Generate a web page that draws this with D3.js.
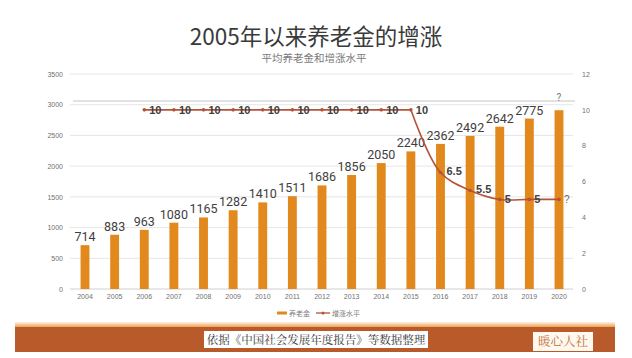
<!DOCTYPE html>
<html><head><meta charset="utf-8">
<script src="https://cdn.jsdelivr.net/npm/d3@7"></script>
<style>body{margin:0;background:#fff}svg{display:block}</style>
</head><body>
<svg id="c" width="632" height="358"></svg>
<script>
const years = ["2004","2005","2006","2007","2008","2009","2010","2011","2012","2013","2014","2015","2016","2017","2018","2019","2020"];
const pension = [714,883,963,1080,1165,1282,1410,1511,1686,1856,2050,2240,2362,2492,2642,2775,2910];
const pensionLabels = ["714","883","963","1080","1165","1282","1410","1511","1686","1856","2050","2240","2362","2492","2642","2775","?"];
const growthYears = ["2006","2007","2008","2009","2010","2011","2012","2013","2014","2015","2016","2017","2018","2019","2020"];
const growth = [10,10,10,10,10,10,10,10,10,10,6.5,5.5,5,5,5];
const growthLabels = ["10","10","10","10","10","10","10","10","10","10","6.5","5.5","5","5","?"];
const leftTicks = [0,500,1000,1500,2000,2500,3000,3500];
const rightTicks = [0,2,4,6,8,10,12];
const title = "2005年以来养老金的增涨";
const subtitle = "平均养老金和增涨水平";
const legendNames = ["养老金","增涨水平"];
const footerText = "依据《中国社会发展年度报告》等数据整理";
const badgeText = "暖心人社";

const svg = d3.select("#c");
const barColor = "#E2891E", lineColor = "#B4533A";
const cjk = "'Noto Sans CJK SC', sans-serif";

const x = d3.scaleBand().domain(years).range([70.2, 573.8]).paddingInner(0.7).paddingOuter(0.35);
const yL = d3.scaleLinear().domain([0,3500]).range([289,74]);
const yR = d3.scaleLinear().domain([0,12]).range([289,74]);
const cx = d => x(d) + x.bandwidth()/2;

// title
svg.append("text").attr("x",316).attr("y",45).attr("text-anchor","middle")
  .attr("font-family",cjk).attr("font-size",22.5).attr("font-weight",400).attr("fill","#3a3a3a").text(title);
svg.append("text").attr("x",314).attr("y",62).attr("text-anchor","middle")
  .attr("font-family",cjk).attr("font-size",10.5).attr("fill","#7a7a7a").text(subtitle);

// gridlines
svg.append("g").selectAll("line").data(leftTicks).join("line")
  .attr("x1",70).attr("x2",573).attr("y1",d=>yL(d)).attr("y2",d=>yL(d))
  .attr("stroke",d=>d===0?"#d0d0d0":"#e6e6e6").attr("stroke-width",1);
svg.append("line").attr("x1",73).attr("x2",575).attr("y1",101).attr("y2",101).attr("stroke","#c4c4c4").attr("stroke-width",1);

// axes labels
const axisFont = "'Liberation Sans', sans-serif";
const gl = svg.append("g").attr("transform","translate(63,0)")
  .call(d3.axisLeft(yL).tickValues(leftTicks).tickFormat(d3.format("d")).tickSize(0).tickPadding(0));
gl.select(".domain").remove();
gl.selectAll("text").attr("font-family",axisFont).attr("font-size",7).attr("fill","#707070");
const gr = svg.append("g").attr("transform","translate(582,0)")
  .call(d3.axisRight(yR).tickValues(rightTicks).tickFormat(d3.format("d")).tickSize(0).tickPadding(0));
gr.select(".domain").remove();
gr.selectAll("text").attr("font-family",axisFont).attr("font-size",7).attr("fill","#707070");
const gx = svg.append("g").attr("transform","translate(0,294)")
  .call(d3.axisBottom(x).tickSize(0).tickPadding(0));
gx.select(".domain").remove();
gx.selectAll("text").attr("font-family",axisFont).attr("font-size",7).attr("fill","#707070");

// bars
svg.append("g").selectAll("rect").data(years).join("rect")
  .attr("x",d=>x(d)).attr("width",x.bandwidth())
  .attr("y",(d,i)=>yL(pension[i])).attr("height",(d,i)=>yL(0)-yL(pension[i]))
  .attr("fill",barColor);
svg.append("g").selectAll("text").data(years).join("text")
  .attr("x",d=>cx(d)).attr("y",(d,i)=>yL(pension[i])-(i===16?9:4))
  .attr("text-anchor","middle").attr("font-family","Roboto, sans-serif")
  .attr("font-size",(d,i)=>i===16?10:12.5).attr("fill",(d,i)=>i===16?"#777":"#404040")
  .text((d,i)=>pensionLabels[i]);

// line: straight while flat, smoothed after the drop begins
const pts = growthYears.map((d,i)=>[cx(d), yR(growth[i])]);
const flatEnd = growthYears.indexOf("2015");
svg.append("path").attr("d", d3.line()(pts.slice(0, flatEnd+1)))
  .attr("fill","none").attr("stroke",lineColor).attr("stroke-width",1.6);
svg.append("path").attr("d", d3.line().curve(d3.curveCatmullRom.alpha(0.5))(pts.slice(flatEnd)))
  .attr("fill","none").attr("stroke",lineColor).attr("stroke-width",1.6);
svg.append("g").selectAll("circle").data(pts).join("circle")
  .attr("cx",d=>d[0]).attr("cy",d=>d[1]).attr("r",1.8).attr("fill",lineColor);
const dyOff = [0,0,0,0,0,0,0,0,0,0,-2,-1,0,0,0];
svg.append("g").selectAll("text").data(pts).join("text")
  .attr("x",(d,i)=>d[0]+(i>=10&&i<=11?6:5)).attr("y",(d,i)=>d[1]+dyOff[i]).attr("dy","0.36em")
  .attr("font-family","'Liberation Sans', sans-serif").attr("font-size",(d,i)=>i===14?10:11)
  .attr("font-weight",(d,i)=>i===14?"normal":"bold")
  .attr("fill",(d,i)=>i===14?"#666":"#404040")
  .text((d,i)=>growthLabels[i]);

// legend
svg.append("rect").attr("x",277).attr("y",311.5).attr("width",10).attr("height",3).attr("fill",barColor);
svg.append("text").attr("x",289).attr("y",316).attr("font-family",cjk).attr("font-size",7).attr("fill","#808080").text(legendNames[0]);
svg.append("line").attr("x1",316).attr("x2",330).attr("y1",313).attr("y2",313).attr("stroke",lineColor).attr("stroke-width",1.3);
svg.append("circle").attr("cx",323).attr("cy",313).attr("r",1.5).attr("fill",lineColor);
svg.append("text").attr("x",332).attr("y",316).attr("font-family",cjk).attr("font-size",7).attr("fill","#808080").text(legendNames[1]);

// footer
const defs = svg.append("defs");
const grad = defs.append("linearGradient").attr("id","fg").attr("x1",0).attr("x2",0).attr("y1",0).attr("y2",1);
grad.append("stop").attr("offset","0%").attr("stop-color","#fdf3e8");
grad.append("stop").attr("offset","100%").attr("stop-color","#f0a050");
svg.append("rect").attr("x",15).attr("y",322).attr("width",600).attr("height",5).attr("fill","url(#fg)");
svg.append("rect").attr("x",15).attr("y",327).attr("width",600).attr("height",25).attr("fill","#B95A2B");
svg.append("rect").attr("x",204).attr("y",331).attr("width",224).attr("height",17).attr("fill","#fff");
svg.append("text").attr("x",316).attr("y",343.5).attr("text-anchor","middle")
  .attr("font-family","'Noto Serif CJK SC','Noto Sans CJK SC',serif").attr("font-size",11.5).attr("fill","#333").text(footerText);
svg.append("rect").attr("x",533).attr("y",332).attr("width",60).attr("height",19).attr("fill","#FFF8EE");
svg.append("text").attr("x",563).attr("y",346).attr("text-anchor","middle")
  .attr("font-family","'Noto Serif CJK SC','Noto Sans CJK SC',serif").attr("font-size",12.5).attr("fill","#C27440").text(badgeText);
</script>
</body></html>
